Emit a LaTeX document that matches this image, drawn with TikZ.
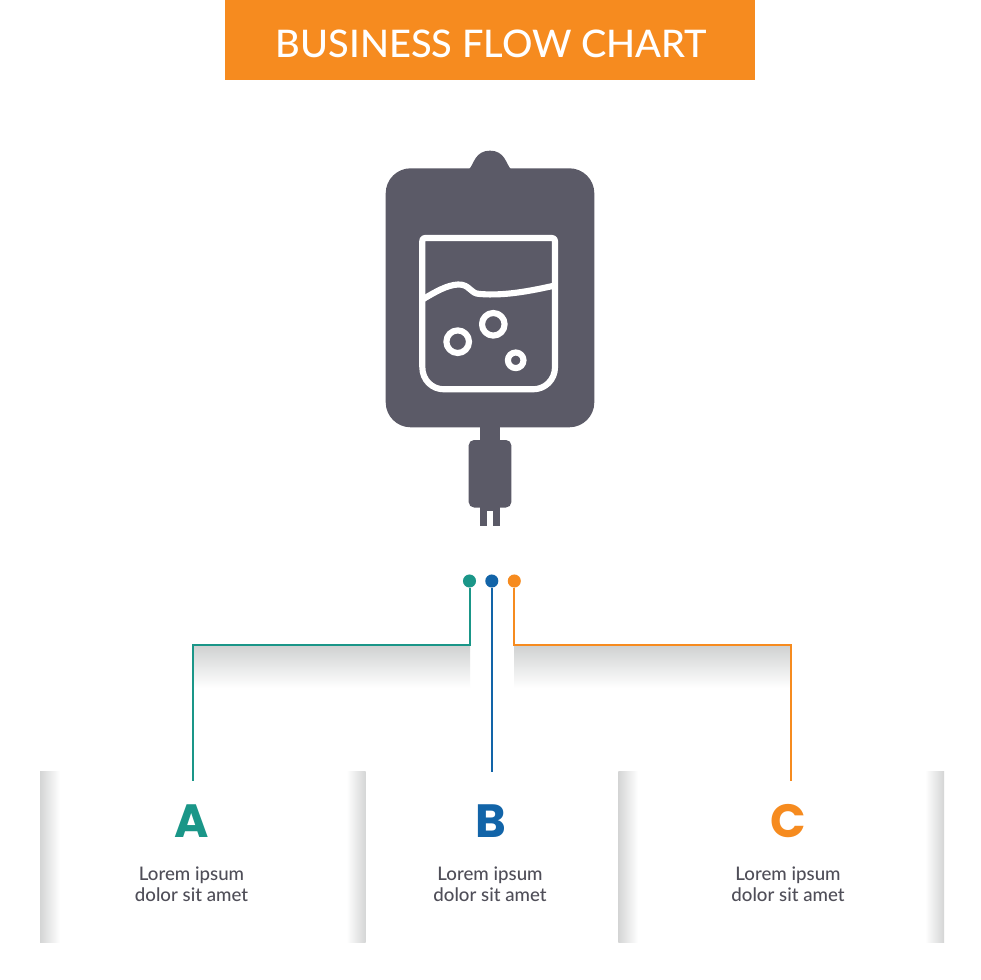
\documentclass[tikz,border=0pt]{standalone}
\usepackage{fontspec}
\setmainfont{Lato Medium}
\newfontfamily\titlefont{Lato Medium}
\newfontfamily\letterfont{Poppins}[BoldFont={Poppins Bold}]
\definecolor{orangeC}{HTML}{F68B1F}
\definecolor{tealC}{HTML}{1A9688}
\definecolor{blueC}{HTML}{1264A8}
\definecolor{bagC}{HTML}{5B5A67}
\definecolor{txtC}{HTML}{4F4E58}
\definecolor{shadeC}{HTML}{CFD1D1}
\definecolor{panelC}{HTML}{D4D5D5}
\tikzset{
  bagfill/.style={fill=bagC,draw=none},
  bagline/.style={draw=white,line width=4.6pt,line join=round},
  dotnode/.style={circle,minimum size=9.8pt,inner sep=0pt,fill=#1},
  conn/.style={draw=#1,line width=1.5pt},
  letternode/.style={inner sep=0pt,text=#1,font=\letterfont\bfseries\fontsize{35}{35}\selectfont},
  bodytext/.style={inner sep=0pt,align=center,text=txtC,font=\fontsize{14}{15.4}\selectfont}
}
\begin{document}
\begin{tikzpicture}[x=0.75pt,y=-0.75pt]
\useasboundingbox (0,0) rectangle (980,980);
\fill[white] (0,0) rectangle (980,980);
% title
\fill[orangeC] (225,0) rectangle (755,80);
\node[inner sep=0pt,text=white,font=\titlefont\fontsize{28.5}{30}\selectfont] (title) at (491.5,44) {BUSINESS FLOW CHART};
% bag
\fill[bagfill,rounded corners=18.75pt] (385.7,168.3) rectangle (594.3,427.3);
\fill[bagfill] (469.3,169) .. controls (474,164) and (475,150.7) .. (490,150.7) .. controls (505,150.7) and (506,164) .. (510.7,169) -- cycle;
\fill[bagfill] (479.7,426) rectangle (500.3,445);
\fill[bagfill,rounded corners=4pt] (468.7,440) rectangle (511.3,507.5);
\fill[bagfill] (479.7,504) rectangle (500.3,511);
\fill[bagfill] (479.7,505) rectangle (487,525.7);
\fill[bagfill] (493.3,505) rectangle (500.3,525.7);
% window
\draw[bagline] (425,238) -- (552,238) .. controls (554,238) and (555,239) .. (555,241)
  -- (555,367) .. controls (555,380) and (545,389.3) .. (533,389.3)
  -- (444,389.3) .. controls (432,389.3) and (422.3,380) .. (422.3,367)
  -- (422.3,241) .. controls (422.3,239) and (423,238) .. (425,238) -- cycle;
\draw[bagline] (422.5,299.5) .. controls (435,292) and (447,285) .. (458,284.5)
  .. controls (470,284) and (470,294) .. (480,294)
  .. controls (505,296) and (530,291) .. (555,285.5);
\draw[bagline] (457.7,341.7) circle [radius=11.3];
\draw[bagline] (493.3,324.3) circle [radius=11.3];
\draw[bagline] (515.7,360.3) circle [radius=7.8];
% shadows
\shade[top color=shadeC,bottom color=white] (192.5,645) rectangle (470,688);
\shade[top color=shadeC,bottom color=white] (514.5,645) rectangle (791.5,688);
\shade[left color=panelC,right color=white] (40,771.7) rectangle (60,942.3);
\shade[left color=white,right color=panelC] (346.5,771.7) rectangle (365.7,942.3);
\shade[left color=panelC,right color=white] (618.3,771.7) rectangle (638,942.3);
\shade[left color=white,right color=panelC] (925,771.7) rectangle (944,942.3);
% dots
\node[dotnode=tealC] (dotA) at (469.5,581) {};
\node[dotnode=blueC] (dotB) at (491.8,581) {};
\node[dotnode=orangeC] (dotC) at (514.3,581) {};
\coordinate (endA) at (192.5,781);
\coordinate (endB) at (491.8,771.5);
\coordinate (endC) at (791.3,781);
\coordinate (kneeA) at (469.5,645);
\coordinate (kneeC) at (514.3,645);
\draw[conn=tealC] (dotA) -- (kneeA) -| (endA);
\draw[conn=blueC] (dotB) -- (endB);
\draw[conn=orangeC] (dotC) -- (kneeC) -| (endC);
% letters
\node[letternode=tealC,anchor=base] (letA) at (192,837) {A};
\node[letternode=blueC,anchor=base] (letB) at (490.5,837) {B};
\node[letternode=orangeC,anchor=base] (letC) at (788.5,837) {C};
% body
\node[bodytext] (txtA) at (191.5,884) {Lorem ipsum\\dolor sit amet};
\node[bodytext] (txtB) at (490,884) {Lorem ipsum\\dolor sit amet};
\node[bodytext] (txtC) at (788,884) {Lorem ipsum\\dolor sit amet};
\end{tikzpicture}
\end{document}
